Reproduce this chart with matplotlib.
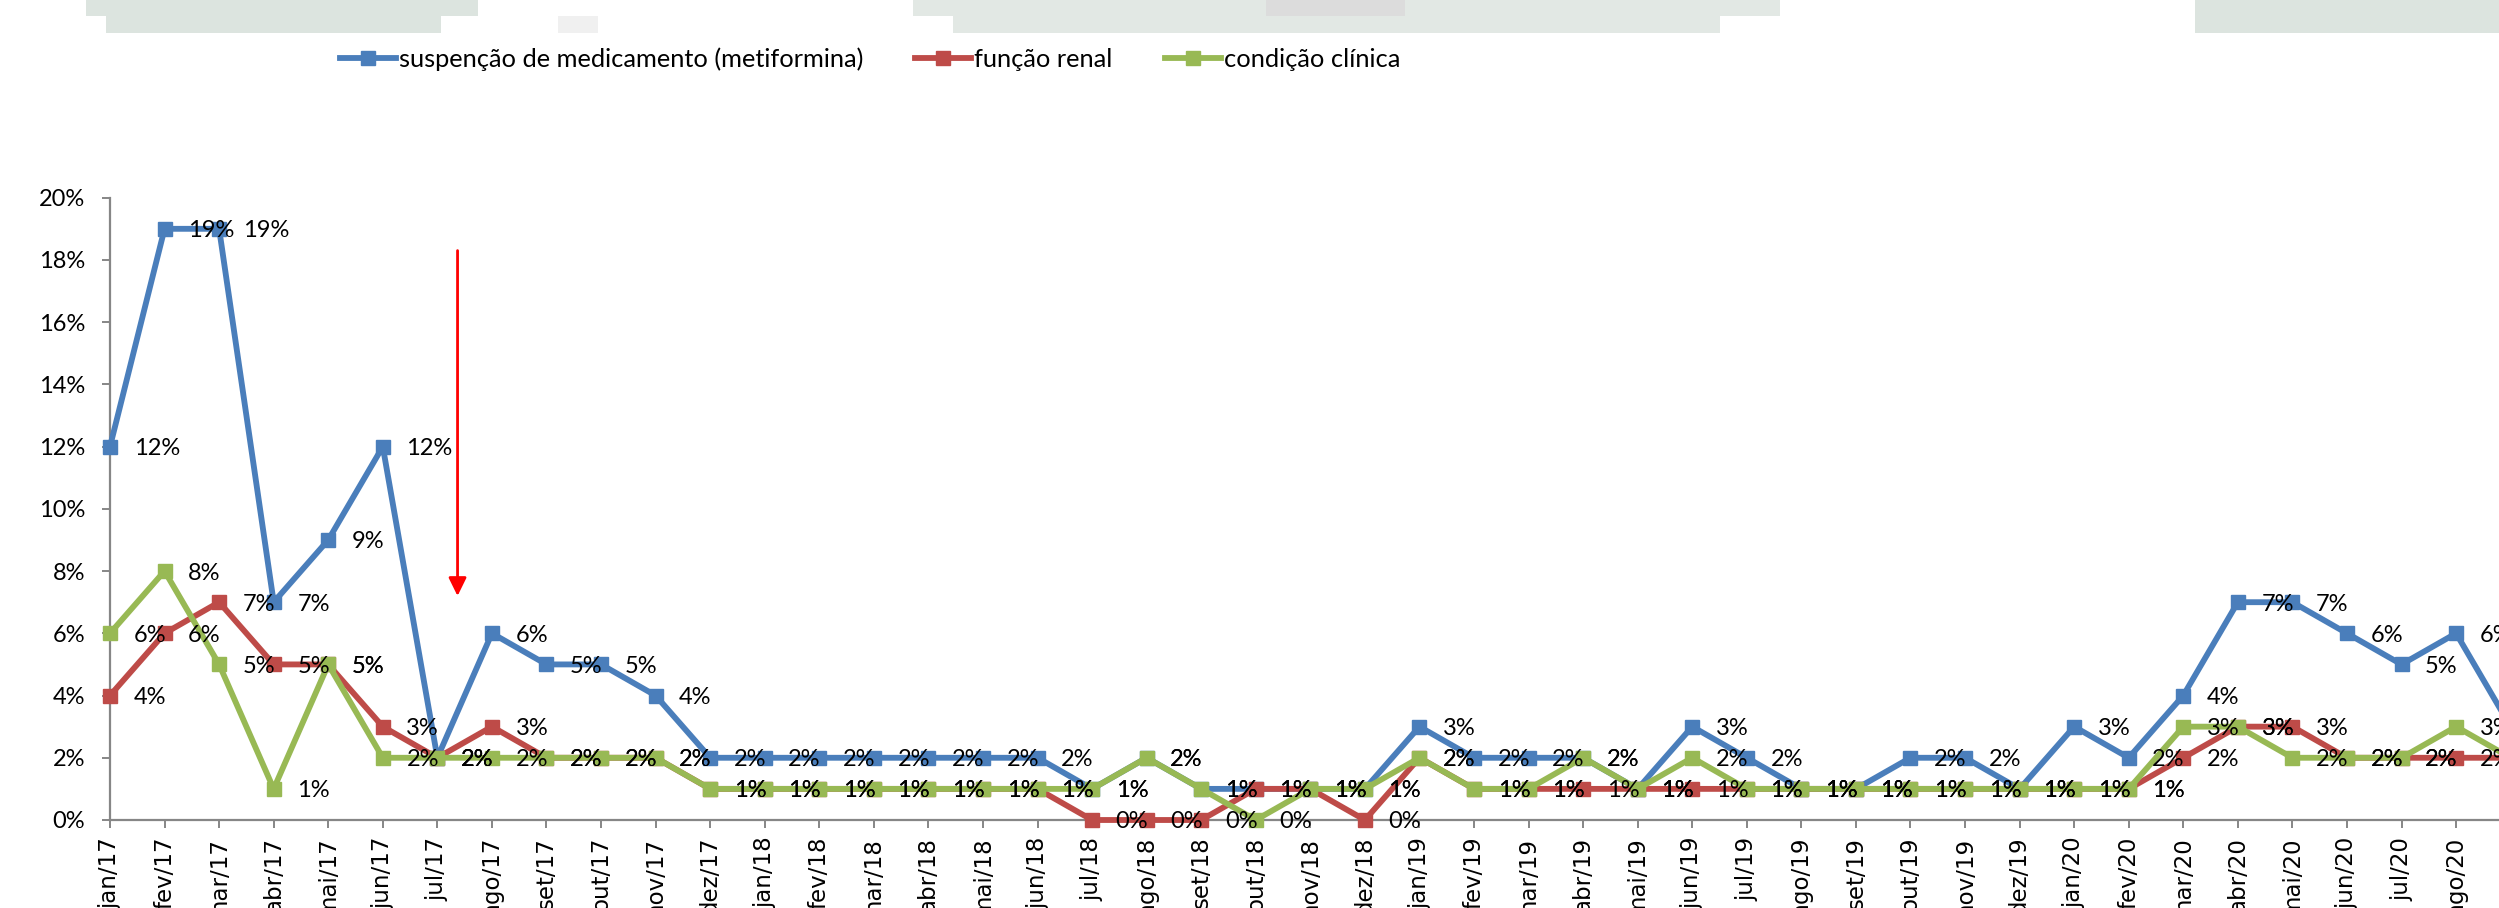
import matplotlib
matplotlib.use("Agg")
import matplotlib.pyplot as plt
from matplotlib.patches import Rectangle
from matplotlib.ticker import FuncFormatter

plt.rcParams['font.family'] = ['Lato', 'DejaVu Sans']

categories = [
    "jan/17", "fev/17", "mar/17", "abr/17", "mai/17", "jun/17",
    "jul/17", "ago/17", "set/17", "out/17", "nov/17", "dez/17",
    "jan/18", "fev/18", "mar/18", "abr/18", "mai/18", "jun/18",
    "jul/18", "ago/18", "set/18", "out/18", "nov/18", "dez/18",
    "jan/19", "fev/19", "mar/19", "abr/19", "mai/19", "jun/19",
    "jul/19", "ago/19", "set/19", "out/19", "nov/19", "dez/19",
    "jan/20", "fev/20", "mar/20", "abr/20", "mai/20", "jun/20",
    "jul/20", "ago/20", "set/20",
]

# share of cases per month
suspensao = [
    0.12, 0.19, 0.19, 0.07, 0.09, 0.12, 0.02, 0.06, 0.05, 0.05, 0.04, 0.02,
    0.02, 0.02, 0.02, 0.02, 0.02, 0.02, 0.01, 0.02, 0.01, 0.01, 0.01, 0.01,
    0.03, 0.02, 0.02, 0.02, 0.01, 0.03, 0.02, 0.01, 0.01, 0.02, 0.02, 0.01,
    0.03, 0.02, 0.04, 0.07, 0.07, 0.06, 0.05, 0.06, 0.03,
]
funcao_renal = [
    0.04, 0.06, 0.07, 0.05, 0.05, 0.03, 0.02, 0.03, 0.02, 0.02, 0.02, 0.01,
    0.01, 0.01, 0.01, 0.01, 0.01, 0.01, 0.00, 0.00, 0.00, 0.01, 0.01, 0.00,
    0.02, 0.01, 0.01, 0.01, 0.01, 0.01, 0.01, 0.01, 0.01, 0.01, 0.01, 0.01,
    0.01, 0.01, 0.02, 0.03, 0.03, 0.02, 0.02, 0.02, 0.02,
]
condicao_clinica = [
    0.06, 0.08, 0.05, 0.01, 0.05, 0.02, 0.02, 0.02, 0.02, 0.02, 0.02, 0.01,
    0.01, 0.01, 0.01, 0.01, 0.01, 0.01, 0.01, 0.02, 0.01, 0.00, 0.01, 0.01,
    0.02, 0.01, 0.01, 0.02, 0.01, 0.02, 0.01, 0.01, 0.01, 0.01, 0.01, 0.01,
    0.01, 0.01, 0.03, 0.03, 0.02, 0.02, 0.02, 0.03, 0.02,
]

series = [
    ("suspenção de medicamento (metiformina)", suspensao, "#4A7EBB"),
    ("função renal", funcao_renal, "#BE4B48"),
    ("condição clínica", condicao_clinica, "#98B954"),
]

W, H = 2499, 908
fig = plt.figure(figsize=(W / 100, H / 100), dpi=100)

# faded header blocks at the top edge
for x0, y0, w, h, c in [(86, 0, 392, 16, "#DCE4DF"), (106, 16, 335, 17, "#DCE4DF"),
                        (913, 0, 867, 16, "#E2E8E4"), (953, 16, 767, 17, "#E2E8E4"),
                        (1266, 0, 139, 16, "#DCDCDC"), (558, 16, 40, 17, "#F0F0F0"),
                        (2195, 0, 304, 33, "#DCE4DF")]:
    fig.patches.append(Rectangle((x0 / W, 1 - (y0 + h) / H), w / W, h / H,
                                 transform=fig.transFigure, color=c, lw=0))

step = 54.56
n = len(categories)
ax = fig.add_axes([110 / W, 88 / H, (n - 1) * step / W, 622.3 / H])

x = list(range(n))
for name, vals, col in series:
    ax.plot(x, vals, color=col, lw=4.2, marker="s", markersize=10.5,
            label=name, clip_on=False, zorder=3)

for name, vals, col in series:
    for i, v in enumerate(vals):
        ax.annotate(f"{v * 100:.0f}%", (i, v), xytext=(17, 0),
                    textcoords="offset points", ha="left", va="center_baseline",
                    fontsize=17, color="black", zorder=5, annotation_clip=False)

ax.set_xlim(0, n - 1)
ax.set_ylim(0, 0.20)
ax.set_yticks([i / 100 for i in range(0, 21, 2)])
ax.yaxis.set_major_formatter(FuncFormatter(lambda v, p: f"{v * 100:.0f}%"))
ax.set_xticks(x)
ax.set_xticklabels(categories, rotation=90, family="DejaVu Sans", fontsize=16.5)

for s in ["top", "right"]:
    ax.spines[s].set_visible(False)
for s in ["left", "bottom"]:
    ax.spines[s].set_color("#868686")
    ax.spines[s].set_linewidth(1.6)
ax.tick_params(axis="both", direction="out", length=6, width=1.4, color="#868686")
ax.tick_params(axis="y", labelsize=17, pad=12)
ax.tick_params(axis="x", pad=6)

# red arrow marking the change
ax.annotate("", xy=(6.37, 0.072), xytext=(6.37, 0.183),
            arrowprops=dict(arrowstyle="-|>,head_length=0.55,head_width=0.27",
                            color="red", lw=2, mutation_scale=20,
                            shrinkA=0, shrinkB=0))

fig.legend(loc="center left", bbox_to_anchor=(340 / W, 1 - 59 / H), ncol=3,
           frameon=False, fontsize=18.3, handlelength=2.2, handletextpad=0.12,
           columnspacing=2.05, borderpad=0, borderaxespad=0)

fig.savefig("out.png", dpi=100)
